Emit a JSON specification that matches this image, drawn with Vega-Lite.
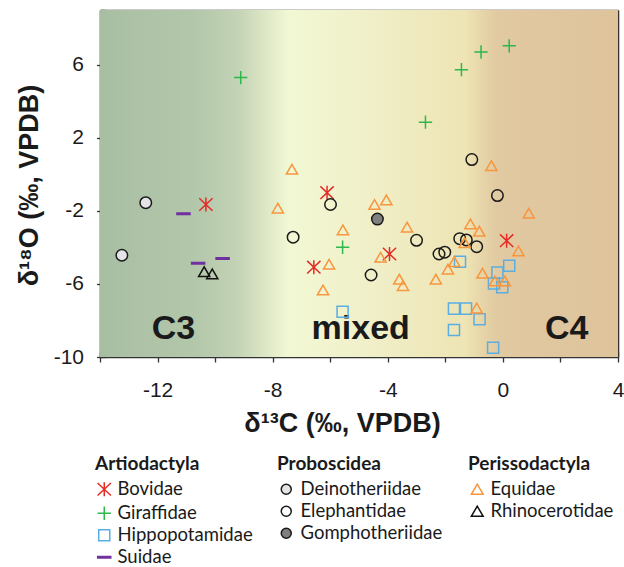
{
  "$schema": "https://vega.github.io/schema/vega-lite/v6.json",
  "width": 518,
  "height": 347,
  "autosize": "none",
  "padding": {"left": 100, "top": 10, "right": 6, "bottom": 210},
  "background": "white",
  "config": {
    "font": "Liberation Sans",
    "view": {"stroke": null},
    "axis": {"zindex": 1, "grid": false, "domainColor": "#333333", "tickColor": "#333333", "labelColor": "#1a1a1a", "titleColor": "#1a1a1a", "domainWidth": 1.6, "tickWidth": 1.3}
  },
  "datasets": {
    "samples": [
      {"order": "Artiodactyla", "family": "Bovidae", "d13C": -10.32, "d18O": -1.65},
      {"order": "Artiodactyla", "family": "Bovidae", "d13C": -6.11, "d18O": -1.0},
      {"order": "Artiodactyla", "family": "Bovidae", "d13C": -6.57, "d18O": -5.08},
      {"order": "Artiodactyla", "family": "Bovidae", "d13C": -3.94, "d18O": -4.36},
      {"order": "Artiodactyla", "family": "Bovidae", "d13C": 0.13, "d18O": -3.63},
      {"order": "Artiodactyla", "family": "Giraffidae", "d13C": -9.11, "d18O": 5.3},
      {"order": "Artiodactyla", "family": "Giraffidae", "d13C": -5.57, "d18O": -3.99},
      {"order": "Artiodactyla", "family": "Giraffidae", "d13C": -0.76, "d18O": 6.7},
      {"order": "Artiodactyla", "family": "Giraffidae", "d13C": 0.22, "d18O": 7.04},
      {"order": "Artiodactyla", "family": "Giraffidae", "d13C": -1.44, "d18O": 5.73},
      {"order": "Artiodactyla", "family": "Giraffidae", "d13C": -2.69, "d18O": 2.86},
      {"order": "Artiodactyla", "family": "Hippopotamidae", "d13C": -5.57, "d18O": -7.52},
      {"order": "Artiodactyla", "family": "Hippopotamidae", "d13C": -1.49, "d18O": -4.78},
      {"order": "Artiodactyla", "family": "Hippopotamidae", "d13C": 0.22, "d18O": -5.0},
      {"order": "Artiodactyla", "family": "Hippopotamidae", "d13C": -0.19, "d18O": -5.38},
      {"order": "Artiodactyla", "family": "Hippopotamidae", "d13C": -0.31, "d18O": -5.98},
      {"order": "Artiodactyla", "family": "Hippopotamidae", "d13C": -0.02, "d18O": -6.18},
      {"order": "Artiodactyla", "family": "Hippopotamidae", "d13C": -1.7, "d18O": -7.35},
      {"order": "Artiodactyla", "family": "Hippopotamidae", "d13C": -1.28, "d18O": -7.35},
      {"order": "Artiodactyla", "family": "Hippopotamidae", "d13C": -0.81, "d18O": -7.93},
      {"order": "Artiodactyla", "family": "Hippopotamidae", "d13C": -1.7, "d18O": -8.52},
      {"order": "Artiodactyla", "family": "Hippopotamidae", "d13C": -0.34, "d18O": -9.49},
      {"order": "Artiodactyla", "family": "Suidae", "d13C": -11.1, "d18O": -2.16},
      {"order": "Artiodactyla", "family": "Suidae", "d13C": -10.59, "d18O": -4.87},
      {"order": "Artiodactyla", "family": "Suidae", "d13C": -9.74, "d18O": -4.61},
      {"order": "Proboscidea", "family": "Deinotheriidae", "d13C": -13.24, "d18O": -4.43},
      {"order": "Proboscidea", "family": "Deinotheriidae", "d13C": -12.41, "d18O": -1.55},
      {"order": "Proboscidea", "family": "Elephantidae", "d13C": -5.99, "d18O": -1.65},
      {"order": "Proboscidea", "family": "Elephantidae", "d13C": -7.29, "d18O": -3.44},
      {"order": "Proboscidea", "family": "Elephantidae", "d13C": -1.08, "d18O": 0.81},
      {"order": "Proboscidea", "family": "Elephantidae", "d13C": -0.19, "d18O": -1.16},
      {"order": "Proboscidea", "family": "Elephantidae", "d13C": -3.0, "d18O": -3.61},
      {"order": "Proboscidea", "family": "Elephantidae", "d13C": -4.58, "d18O": -5.51},
      {"order": "Proboscidea", "family": "Elephantidae", "d13C": -2.22, "d18O": -4.36},
      {"order": "Proboscidea", "family": "Elephantidae", "d13C": -2.02, "d18O": -4.26},
      {"order": "Proboscidea", "family": "Elephantidae", "d13C": -1.5, "d18O": -3.52},
      {"order": "Proboscidea", "family": "Elephantidae", "d13C": -1.27, "d18O": -3.59},
      {"order": "Proboscidea", "family": "Elephantidae", "d13C": -0.91, "d18O": -3.96},
      {"order": "Proboscidea", "family": "Gomphotheriidae", "d13C": -4.36, "d18O": -2.45},
      {"order": "Perissodactyla", "family": "Equidae", "d13C": -7.33, "d18O": 0.28},
      {"order": "Perissodactyla", "family": "Equidae", "d13C": -7.82, "d18O": -1.85},
      {"order": "Perissodactyla", "family": "Equidae", "d13C": -5.56, "d18O": -3.04},
      {"order": "Perissodactyla", "family": "Equidae", "d13C": -6.04, "d18O": -4.92},
      {"order": "Perissodactyla", "family": "Equidae", "d13C": -6.25, "d18O": -6.33},
      {"order": "Perissodactyla", "family": "Equidae", "d13C": -4.46, "d18O": -1.65},
      {"order": "Perissodactyla", "family": "Equidae", "d13C": -4.05, "d18O": -1.4},
      {"order": "Perissodactyla", "family": "Equidae", "d13C": -0.4, "d18O": 0.48},
      {"order": "Perissodactyla", "family": "Equidae", "d13C": -3.33, "d18O": -2.89},
      {"order": "Perissodactyla", "family": "Equidae", "d13C": 0.9, "d18O": -2.13},
      {"order": "Perissodactyla", "family": "Equidae", "d13C": -1.13, "d18O": -2.71},
      {"order": "Perissodactyla", "family": "Equidae", "d13C": -0.82, "d18O": -3.11},
      {"order": "Perissodactyla", "family": "Equidae", "d13C": -1.33, "d18O": -3.74},
      {"order": "Perissodactyla", "family": "Equidae", "d13C": 0.54, "d18O": -4.19},
      {"order": "Perissodactyla", "family": "Equidae", "d13C": -4.25, "d18O": -4.54},
      {"order": "Perissodactyla", "family": "Equidae", "d13C": -1.69, "d18O": -4.78},
      {"order": "Perissodactyla", "family": "Equidae", "d13C": -1.91, "d18O": -5.19},
      {"order": "Perissodactyla", "family": "Equidae", "d13C": -0.71, "d18O": -5.41},
      {"order": "Perissodactyla", "family": "Equidae", "d13C": -3.6, "d18O": -5.74},
      {"order": "Perissodactyla", "family": "Equidae", "d13C": -3.47, "d18O": -6.09},
      {"order": "Perissodactyla", "family": "Equidae", "d13C": -2.33, "d18O": -5.74},
      {"order": "Perissodactyla", "family": "Equidae", "d13C": -0.28, "d18O": -5.84},
      {"order": "Perissodactyla", "family": "Equidae", "d13C": 0.07, "d18O": -5.84},
      {"order": "Perissodactyla", "family": "Equidae", "d13C": -0.91, "d18O": -7.32},
      {"order": "Perissodactyla", "family": "Rhinocerotidae", "d13C": -10.38, "d18O": -5.33},
      {"order": "Perissodactyla", "family": "Rhinocerotidae", "d13C": -10.1, "d18O": -5.45}
    ]
  },
  "layer": [
    {
      "data": {"values": [{}]},
      "mark": {
        "type": "rect",
        "color": {
          "gradient": "linear",
          "x1": 0, "x2": 1, "y1": 0, "y2": 0,
          "stops": [
            {"offset": 0, "color": "#a8bea3"},
            {"offset": 0.185, "color": "#b3c7aa"},
            {"offset": 0.265, "color": "#c3d3b5"},
            {"offset": 0.317, "color": "#dce6c5"},
            {"offset": 0.365, "color": "#f2f8d4"},
            {"offset": 0.512, "color": "#f0f0c9"},
            {"offset": 0.705, "color": "#eee4b4"},
            {"offset": 0.74, "color": "#e6d4a8"},
            {"offset": 0.768, "color": "#e1c9a1"},
            {"offset": 1, "color": "#dec39b"}
          ]
        }
      },
      "encoding": {
        "x": {"value": 0},
        "x2": {"value": "width"},
        "y": {"value": 0},
        "y2": {"value": "height"}
      }
    },
    {
      "data": {"values": [
        {"zone": "C3", "d13C": -11.45, "d18O": -9},
        {"zone": "mixed", "d13C": -4.94, "d18O": -9},
        {"zone": "C4", "d13C": 2.22, "d18O": -9}
      ]},
      "mark": {"type": "text", "font": "Liberation Sans", "fontWeight": "bold", "fontSize": 34, "color": "#1a1a1a", "align": "center", "baseline": "alphabetic"},
      "encoding": {
        "x": {"field": "d13C", "type": "quantitative", "scale": {"domain": [-14, 4], "nice": false, "zero": false},
          "axis": {"orient": "bottom", "values": [-14,-13,-12,-11,-10,-9,-8,-7,-6,-5,-4,-3,-2,-1,0,1,2,3,4], "tickSize": -5, "labels": false, "domain": false, "title": null}},
        "y": {"field": "d18O", "type": "quantitative", "scale": {"domain": [-10, 9], "nice": false, "zero": false},
          "axis": {"orient": "left", "values": [-10,-9,-8,-7,-6,-5,-4,-3,-2,-1,0,1,2,3,4,5,6,7,8,9], "tickSize": -5, "labels": false, "domain": false, "title": null}},
        "text": {"field": "zone"}
      }
    },
    {
      "data": {"name": "samples"},
      "transform": [{"filter": "datum.order === 'Artiodactyla'"}],
      "mark": {"type": "point", "filled": false, "strokeWidth": 1.5, "size": 196, "opacity": 1},
      "encoding": {
        "x": {"field": "d13C", "type": "quantitative", "scale": {"domain": [-14, 4], "nice": false, "zero": false},
          "axis": {"orient": "bottom", "values": [-14,-12,-10,-8,-6,-4,-2,0,2,4], "tickSize": 5, "domain": true,
            "labelExpr": "datum.value % 4 == 0 ? '' + datum.value : ''", "labelFont": "Liberation Sans", "labelFontSize": 21, "labelPadding": 17,
            "labelFlush": false, "labelOverlap": false, "labelBound": false,
            "title": "δ¹³C (‰, VPDB)", "titleFont": "Liberation Sans", "titleFontSize": 27, "titleFontWeight": "bold",
            "titleX": 242, "titleY": 74, "titleBaseline": "alphabetic", "titleAlign": "center"}},
        "y": {"field": "d18O", "type": "quantitative", "scale": {"domain": [-10, 9], "nice": false, "zero": false},
          "axis": {"orient": "left", "values": [-10,-6,-2,2,6], "tickSize": 3.5, "domain": true,
            "labelExpr": "'' + datum.value", "labelFont": "Liberation Sans", "labelFontSize": 21, "labelPadding": 13, "labelAlign": "right",
            "labelOverlap": false, "labelBound": false, "labelFlush": false,
            "title": "δ¹⁸O (‰, VPDB)", "titleFont": "Liberation Sans", "titleFontSize": 27, "titleFontWeight": "bold",
            "titleX": -63, "titleY": 175, "titleAngle": -90, "titleBaseline": "alphabetic", "titleAlign": "center"}},
        "color": {"field": "family", "type": "nominal",
          "scale": {"domain": ["Bovidae", "Giraffidae", "Hippopotamidae", "Suidae"], "range": ["#e52b25", "#2cb84b", "#5aaee2", "#7030a0"]},
          "legend": {"title": "Artiodactyla", "orient": "none", "legendX": -5, "legendY": 445, "direction": "vertical",
            "symbolSize": 196, "symbolStrokeWidth": 1.5, "labelFont": "Lato", "labelFontSize": 18.5, "labelColor": "#1a1a1a",
            "titleFont": "Lato", "titleFontSize": 19, "titleFontWeight": "bold", "titleColor": "#1a1a1a", "titlePadding": 6,
            "rowPadding": 3, "labelOffset": 4, "labelLimit": 300}},
        "shape": {"field": "family", "type": "nominal",
          "scale": {"domain": ["Bovidae", "Giraffidae", "Hippopotamidae", "Suidae"],
            "range": [
              "M-0.95,-0.9L0.95,0.9M-0.95,0.9L0.95,-0.9M0,-1L0,1",
              "M-0.95,0L0.95,0M0,-0.95L0,0.95",
              "M-0.79,-0.79L0.79,-0.79L0.79,0.79L-0.79,0.79Z",
              "M-0.93,-0.11L0.93,-0.11L0.93,0.11L-0.93,0.11Z"
            ]},
          "legend": {"title": "Artiodactyla", "orient": "none", "legendX": -5, "legendY": 445, "direction": "vertical",
            "symbolSize": 196, "symbolStrokeWidth": 1.5, "labelFont": "Lato", "labelFontSize": 18.5, "labelColor": "#1a1a1a",
            "titleFont": "Lato", "titleFontSize": 19, "titleFontWeight": "bold", "titleColor": "#1a1a1a", "titlePadding": 6,
            "rowPadding": 3, "labelOffset": 4, "labelLimit": 300}}
      }
    },
    {
      "data": {"name": "samples"},
      "transform": [{"filter": "datum.order === 'Proboscidea'"}],
      "mark": {"type": "point", "filled": true, "shape": "circle", "stroke": "#1a1a1a", "strokeWidth": 1.5, "size": 132, "opacity": 1},
      "encoding": {
        "x": {"field": "d13C", "type": "quantitative", "scale": {"domain": [-14, 4], "nice": false, "zero": false},
          "axis": {"orient": "top", "values": [], "ticks": false, "labels": false, "domain": true, "title": null}},
        "y": {"field": "d18O", "type": "quantitative", "scale": {"domain": [-10, 9], "nice": false, "zero": false}, "axis": null},
        "color": {"field": "family", "type": "nominal",
          "scale": {"domain": ["Deinotheriidae", "Elephantidae", "Gomphotheriidae"], "range": ["#e4e4e8", "transparent", "#7f7f7f"]},
          "legend": {"title": "Proboscidea", "orient": "none", "legendX": 177, "legendY": 445, "direction": "vertical",
            "symbolType": "circle", "symbolSize": 100, "symbolStrokeWidth": 1.5, "symbolStrokeColor": "#1a1a1a",
            "labelFont": "Lato", "labelFontSize": 18.5, "labelColor": "#1a1a1a",
            "titleFont": "Lato", "titleFontSize": 19, "titleFontWeight": "bold", "titleColor": "#1a1a1a", "titlePadding": 6,
            "rowPadding": 3, "labelOffset": 5, "labelLimit": 300}}
      }
    },
    {
      "data": {"name": "samples"},
      "transform": [{"filter": "datum.order === 'Perissodactyla'"}],
      "mark": {"type": "point", "filled": false, "shape": "triangle-up", "strokeWidth": 1.5, "size": 125, "opacity": 1},
      "encoding": {
        "x": {"field": "d13C", "type": "quantitative", "scale": {"domain": [-14, 4], "nice": false, "zero": false}, "axis": null},
        "y": {"field": "d18O", "type": "quantitative", "scale": {"domain": [-10, 9], "nice": false, "zero": false},
          "axis": {"orient": "right", "values": [], "ticks": false, "labels": false, "domain": true, "title": null}},
        "color": {"field": "family", "type": "nominal",
          "scale": {"domain": ["Equidae", "Rhinocerotidae"], "range": ["#f8963f", "#111111"]},
          "legend": {"title": "Perissodactyla", "orient": "none", "legendX": 368, "legendY": 445, "direction": "vertical",
            "symbolType": "triangle-up", "symbolSize": 140, "symbolStrokeWidth": 1.5,
            "labelFont": "Lato", "labelFontSize": 18.5, "labelColor": "#1a1a1a",
            "titleFont": "Lato", "titleFontSize": 19, "titleFontWeight": "bold", "titleColor": "#1a1a1a", "titlePadding": 6,
            "rowPadding": 3, "labelOffset": 4, "labelLimit": 300}}
      }
    }
  ],
  "resolve": {
    "scale": {"color": "independent", "shape": "independent"},
    "axis": {"x": "independent", "y": "independent"}
  }
}
